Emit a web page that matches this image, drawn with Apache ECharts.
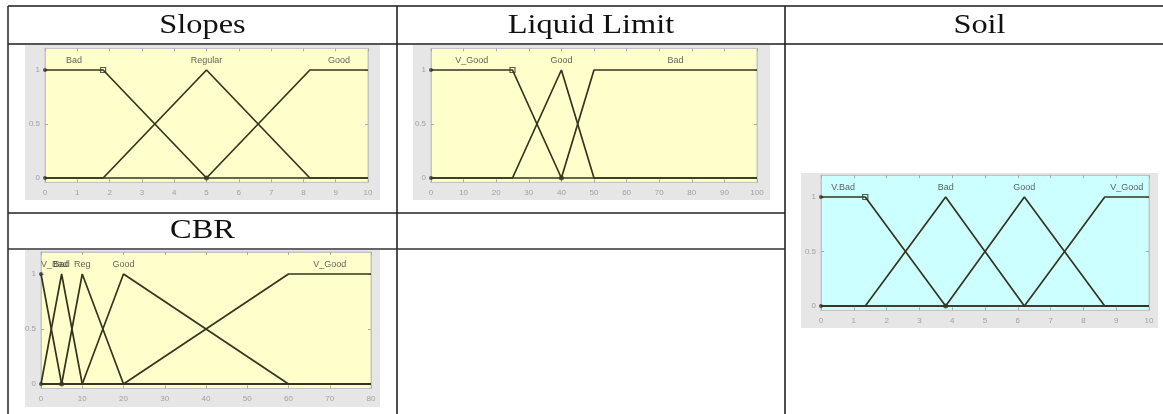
<!DOCTYPE html>
<html>
<head>
<meta charset="utf-8">
<script src="https://cdn.jsdelivr.net/npm/echarts@6/dist/echarts.min.js"></script>
<style>
  html, body { margin: 0; padding: 0; background: #ffffff; }
  #chart { width: 1163px; height: 414px; }
</style>
</head>
<body>
<div id="chart"></div>
<script>
// Column headers of the table
const headers = ['Slopes', 'Liquid Limit', 'Soil', 'CBR'];

// Slopes: membership functions as vertex lists [x, degree]
const slopesNames = ['Bad', 'Regular', 'Good'];
const slopesMF = [
  [[0, 1], [1.8, 1], [5, 0], [10, 0]],
  [[0, 0], [1.8, 0], [5, 1], [8.2, 0], [10, 0]],
  [[0, 0], [5, 0], [8.2, 1], [10, 1]]
];
const slopesTicks = [0, 1, 2, 3, 4, 5, 6, 7, 8, 9, 10];

// Liquid Limit
const liquidNames = ['V_Good', 'Good', 'Bad'];
const liquidMF = [
  [[0, 1], [25, 1], [40, 0], [100, 0]],
  [[0, 0], [25, 0], [40, 1], [50, 0], [100, 0]],
  [[0, 0], [40, 0], [50, 1], [100, 1]]
];
const liquidTicks = [0, 10, 20, 30, 40, 50, 60, 70, 80, 90, 100];

// Soil (output)
const soilNames = ['V.Bad', 'Bad', 'Good', 'V_Good'];
const soilMF = [
  [[0, 1], [1.35, 1], [3.8, 0], [10, 0]],
  [[0, 0], [1.35, 0], [3.8, 1], [6.2, 0], [10, 0]],
  [[0, 0], [3.8, 0], [6.2, 1], [8.65, 0], [10, 0]],
  [[0, 0], [6.2, 0], [8.65, 1], [10, 1]]
];
const soilTicks = [0, 1, 2, 3, 4, 5, 6, 7, 8, 9, 10];

// CBR
const cbrNames = ['V_Bad', 'Bad', 'Reg', 'Good', 'V_Good'];
const cbrMF = [
  [[0, 1], [5, 0], [80, 0]],
  [[0, 0], [5, 1], [10, 0], [80, 0]],
  [[0, 0], [5, 0], [10, 1], [20, 0], [80, 0]],
  [[0, 0], [10, 0], [20, 1], [60, 0], [80, 0]],
  [[0, 0], [20, 0], [60, 1], [80, 1]]
];
const cbrTicks = [0, 10, 20, 30, 40, 50, 60, 70, 80];

const yTicks = [0, 0.5, 1];

// ---- layout ----
const Y_MIN = -0.04, Y_MAX = 1.2;
const panels = [
  { names: slopesNames, mf: slopesMF, ticks: slopesTicks, x0: 45, x1: 368, py0: 178, py1: 70, frame: [25, 45, 380, 200], bg: '#ffffcc' },
  { names: liquidNames, mf: liquidMF, ticks: liquidTicks, x0: 431, x1: 757, py0: 178, py1: 70, frame: [413, 45, 770, 200], bg: '#ffffcc' },
  { names: soilNames, mf: soilMF, ticks: soilTicks, x0: 821, x1: 1149, py0: 306, py1: 197, frame: [801, 173, 1158, 328], bg: '#ccffff' },
  { names: cbrNames, mf: cbrMF, ticks: cbrTicks, x0: 41, x1: 371, py0: 384, py1: 274, frame: [25, 250, 380, 407], bg: '#ffffcc' }
];

const LINE_COLOR = '#35351f';
const TICK_COLOR = '#a8a8a8';
const LABEL_FONT = 'Liberation Sans, Arial, sans-serif';

const grid = [], xAxis = [], yAxis = [], series = [];

panels.forEach((p, i) => {
  const unit = p.py0 - p.py1;
  const top = p.py0 - Y_MAX * unit;
  const bottom = p.py0 - Y_MIN * unit;
  const lo = p.ticks[0], hi = p.ticks[p.ticks.length - 1];
  grid.push({
    left: p.x0, top: top, width: p.x1 - p.x0, height: bottom - top,
    show: true, backgroundColor: p.bg, borderColor: '#c4c4c4', borderWidth: 1, z: 10
  });
  const xBase = {
    gridIndex: i, type: 'value', min: lo, max: hi, interval: p.ticks[1] - p.ticks[0],
    splitLine: { show: false }, z: 11,
    axisLine: { onZero: false, lineStyle: { color: '#c4c4c4', width: 1 } },
    axisTick: { inside: true, length: 3, lineStyle: { color: TICK_COLOR } }
  };
  xAxis.push(Object.assign({}, xBase, {
    position: 'bottom',
    axisLabel: { color: '#a0a0a0', fontSize: 8, fontFamily: LABEL_FONT, margin: 6 }
  }));
  xAxis.push(Object.assign({}, xBase, { position: 'top', axisLabel: { show: false } }));
  const yBase = {
    gridIndex: i, type: 'value', min: Y_MIN, max: Y_MAX,
    splitLine: { show: false }, z: 11,
    axisLine: { onZero: false, lineStyle: { color: '#c4c4c4', width: 1 } },
    axisTick: { inside: true, length: 3, customValues: yTicks, lineStyle: { color: TICK_COLOR } }
  };
  yAxis.push(Object.assign({}, yBase, {
    position: 'left',
    axisLabel: { customValues: yTicks, color: '#a0a0a0', fontSize: 8, fontFamily: LABEL_FONT, margin: 5,
      formatter: v => String(v) }
  }));
  yAxis.push(Object.assign({}, yBase, { position: 'right', axisLabel: { show: false } }));

  // membership function curves
  p.mf.forEach((pts, k) => {
    series.push({
      type: 'line', xAxisIndex: 2 * i, yAxisIndex: 2 * i, data: pts,
      showSymbol: false, symbol: 'none', z: 12, silent: true,
      lineStyle: { color: LINE_COLOR, width: 1.7 }
    });
  });

  // names above the plateau of each function
  const labelData = p.mf.map((pts, k) => {
    const peak = pts.filter(q => q[1] === 1).map(q => q[0]);
    const cx = (Math.min(...peak) + Math.max(...peak)) / 2;
    const align = cx <= lo ? 'left' : (cx >= hi ? 'right' : 'center');
    return { value: [cx, 1.085], name: p.names[k], label: { align: align } };
  });
  series.push({
    type: 'scatter', xAxisIndex: 2 * i, yAxisIndex: 2 * i, data: labelData,
    symbolSize: 0, z: 13, silent: true,
    label: {
      show: true, position: 'inside', formatter: d => d.name,
      color: '#3a3a3a', fontSize: 9, fontFamily: LABEL_FONT
    }
  });

  // vertex handles of the first function
  const first = p.mf[0].filter(q => q[0] < hi);
  const marks = [];
  if (first[0][1] === 1) marks.push([first[0][0], 0]);
  first.forEach(q => marks.push(q));
  series.push({
    type: 'scatter', xAxisIndex: 2 * i, yAxisIndex: 2 * i, z: 14, silent: true,
    data: marks.map((q, m) => {
      const edge = q[0] === lo;
      const last = m === marks.length - 1;
      return {
        value: q,
        symbol: edge ? 'circle' : (last ? 'circle' : 'rect'),
        symbolSize: edge ? 4 : 5,
        itemStyle: edge || last
          ? { color: LINE_COLOR }
          : { color: 'rgba(0,0,0,0)', borderColor: LINE_COLOR, borderWidth: 1.2 }
      };
    })
  });
});

// ---- table rules, figure frames and headers ----
const W = 1163, H = 414;
const rule = (x1, y1, x2, y2, color, width) => ({
  type: 'line', z: 1, silent: true,
  shape: { x1, y1, x2, y2 }, style: { stroke: color, lineWidth: width }
});
const graphics = [
  rule(8, 6, W, 6, '#1a1a1a', 1.6),
  rule(8, 44, W, 44, '#555555', 2),
  rule(8, 6, 8, H, '#333333', 1.6),
  rule(397, 6, 397, H, '#222222', 1.6),
  rule(785, 6, 785, H, '#222222', 1.6),
  rule(8, 213, 785, 213, '#222222', 1.6),
  rule(8, 249, 785, 249, '#333333', 1.6)
];
panels.forEach(p => {
  const f = p.frame;
  graphics.push({
    type: 'rect', z: 2, silent: true,
    shape: { x: f[0], y: f[1], width: f[2] - f[0], height: f[3] - f[1] },
    style: { fill: '#e6e6e6' }
  });
});
const headerPos = [[202.5, 26], [591, 26], [979.5, 26], [202.5, 231]];
headers.forEach((t, i) => {
  graphics.push({
    type: 'text', z: 3, silent: true,
    x: headerPos[i][0], y: headerPos[i][1], scaleX: 1.2,
    style: {
      text: t, fill: '#111111', font: '27px "Liberation Serif", "Times New Roman", serif',
      textAlign: 'center', textVerticalAlign: 'middle'
    }
  });
});

const chart = echarts.init(document.getElementById('chart'), null, { renderer: 'canvas' });
chart.setOption({
  animation: false,
  backgroundColor: '#ffffff',
  graphic: graphics,
  grid, xAxis, yAxis, series
});
</script>
</body>
</html>
